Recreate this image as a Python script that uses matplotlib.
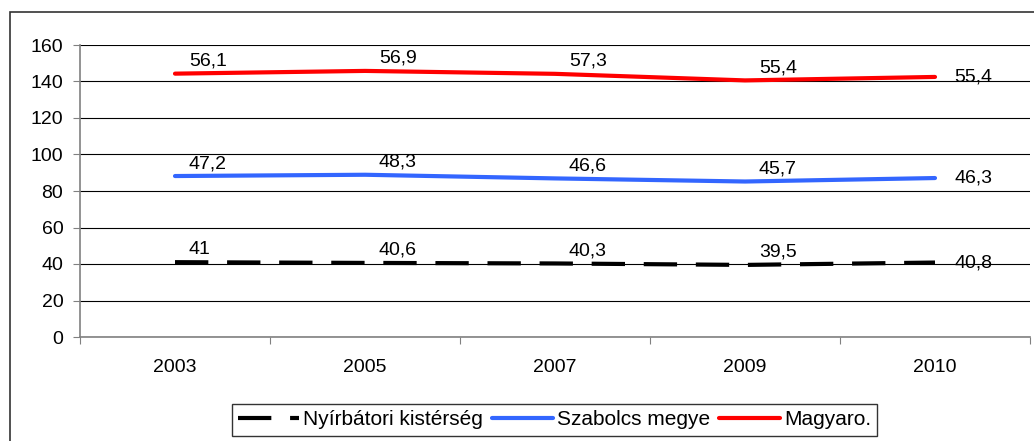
import matplotlib
matplotlib.use("Agg")
import matplotlib.pyplot as plt
import numpy as np
from matplotlib.patches import Rectangle

years = ["2003", "2005", "2007", "2009", "2010"]
nyirbatori = [41, 40.6, 40.3, 39.5, 40.8]
szabolcs = [47.2, 48.3, 46.6, 45.7, 46.3]
magyaro = [56.1, 56.9, 57.3, 55.4, 55.4]
names = ["Nyírbátori kistérség", "Szabolcs megye", "Magyaro."]

plt.rcParams["font.family"] = ["Liberation Sans", "DejaVu Sans"]
FS = 14

W, H = 1034, 441
fig = plt.figure(figsize=(W / 100, H / 100), dpi=100)
ax = fig.add_axes([80 / W, (H - 337) / H, 950 / W, 292 / H])

# stacked line chart: each series sits on top of the previous ones
series = np.array([nyirbatori, szabolcs, magyaro])
stacked = np.cumsum(series, axis=0)
x = np.arange(len(years))

ax.set_axisbelow(True)
ax.yaxis.grid(True, color="black", lw=0.8)

styles = [
    dict(color="black", lw=3.0, dashes=(8, 4.5), dash_capstyle="butt"),
    dict(color="#3366FF", lw=3.0, solid_capstyle="round"),
    dict(color="#FF0000", lw=3.0, solid_capstyle="round"),
]
for vals, top, name, st in zip(series, stacked, names, styles):
    ax.plot(x, top, label=name, zorder=3, **st)
    for i, (xi, yi, v) in enumerate(zip(x, top, vals)):
        lab = f"{v:g}".replace(".", ",")
        if i == len(x) - 1:
            ax.annotate(lab, (xi, yi), xytext=(14, 0), textcoords="offset points",
                        ha="left", va="center", fontsize=FS, zorder=4)
        else:
            ax.annotate(lab, (xi, yi), xytext=(10, 9), textcoords="offset points",
                        ha="left", va="center", fontsize=FS, zorder=4)

ax.set_xlim(-0.5, len(years) - 0.5)
ax.set_ylim(0, 160)
ax.set_yticks(np.arange(0, 161, 20))
ax.set_xticks(np.arange(-0.5, len(years), 1))
ax.set_xticklabels([])
ax.set_xticks(x, minor=True)
ax.set_xticklabels(years, minor=True)
ax.tick_params(axis="x", which="major", length=5, color="#808080", direction="out")
ax.tick_params(axis="x", which="minor", length=0, pad=16, labelsize=FS)
ax.tick_params(axis="y", length=5, color="#808080", direction="out", pad=7, labelsize=FS)

for s in ["top", "right"]:
    ax.spines[s].set_visible(False)
for s in ["left", "bottom"]:
    ax.spines[s].set_color("#808080")
    ax.spines[s].set_linewidth(1.2)

leg = fig.legend(loc="upper left", bbox_to_anchor=(232 / W, (H - 404) / H), ncol=3,
                 frameon=True, fancybox=False, edgecolor="black", fontsize=15,
                 handlelength=2.9, handletextpad=0.2, columnspacing=0.45,
                 borderpad=0.3, borderaxespad=0)
leg.get_frame().set_linewidth(1.0)

# outer chart frame (cropped at the right and bottom)
fig.patches.append(Rectangle((10 / W, -0.1), 1.2, (H - 12) / H + 0.1,
                             transform=fig.transFigure, fill=False,
                             edgecolor="#333333", lw=1.2, clip_on=False))

fig.savefig("out.png", dpi=100)
